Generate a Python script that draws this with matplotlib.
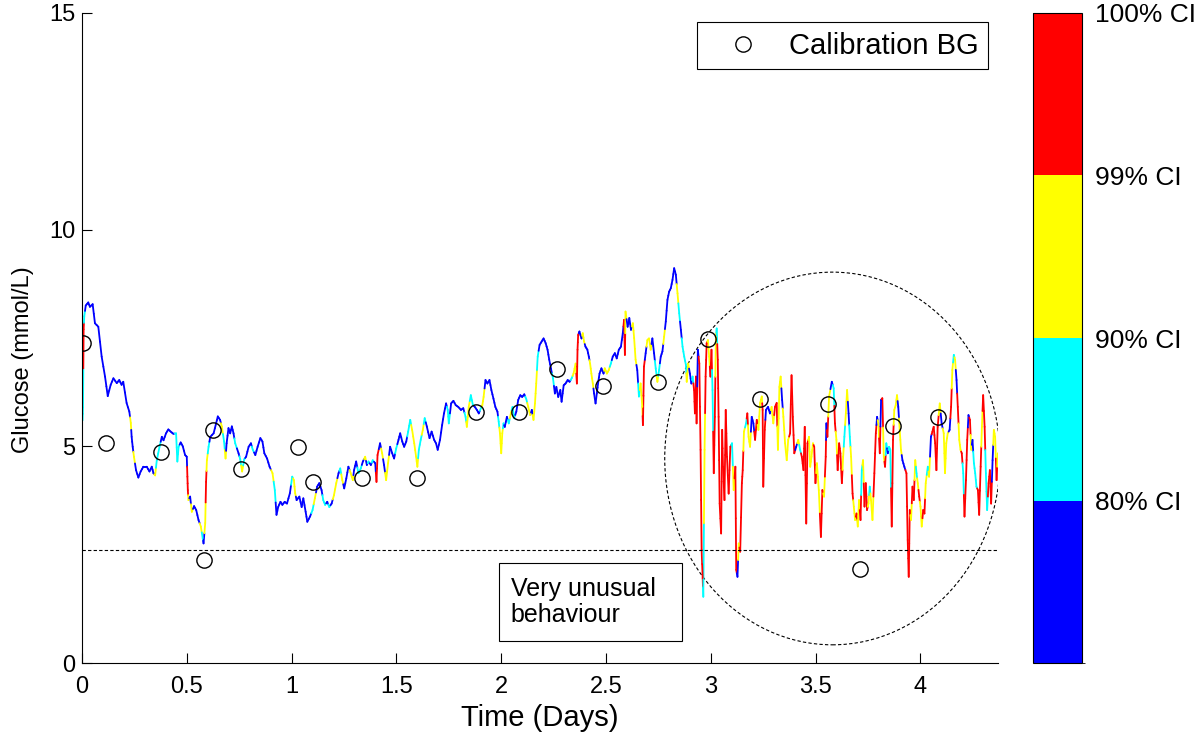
import numpy as np
import matplotlib.pyplot as plt
from matplotlib import font_manager
from matplotlib.collections import LineCollection
from matplotlib.colors import ListedColormap, BoundaryNorm
from matplotlib.patches import Ellipse, Rectangle

plt.rcParams['font.family'] = ['Liberation Sans', 'DejaVu Sans']
installed = {f.name for f in font_manager.fontManager.ttflist}
tick_font = 'Liberation Sans Narrow' if 'Liberation Sans Narrow' in installed else 'Liberation Sans'
tick_size = 20 if tick_font == 'Liberation Sans Narrow' else 17

# CGM trace: (time in days, glucose mmol/L, CI level 0=80%,1=90%,2=99%,3=100%)
trace = [
    (0.003, 5.60, 1), (0.005, 5.90, 1), (0.008, 7.70, 3), (0.011, 8.00, 1), (0.018, 8.25, 0),
    (0.030, 8.32, 0), (0.038, 8.22, 0), (0.051, 8.28, 0), (0.062, 7.84, 0), (0.078, 7.76, 0),
    (0.094, 7.07, 0), (0.110, 6.61, 0), (0.123, 6.16, 0), (0.137, 6.42, 0), (0.150, 6.57, 0),
    (0.166, 6.46, 0), (0.178, 6.53, 0), (0.189, 6.42, 0), (0.197, 6.49, 0), (0.213, 6.00, 0),
    (0.226, 5.80, 0), (0.233, 5.54, 2), (0.237, 5.22, 0), (0.242, 4.99, 0), (0.248, 4.76, 2),
    (0.258, 4.45, 0), (0.269, 4.28, 0), (0.280, 4.42, 0), (0.293, 4.53, 0), (0.309, 4.53, 0),
    (0.322, 4.42, 0), (0.333, 4.53, 0), (0.341, 4.38, 0), (0.349, 4.33, 2), (0.357, 4.68, 1),
    (0.370, 4.99, 1), (0.381, 5.22, 0), (0.389, 5.14, 0), (0.401, 5.30, 0), (0.412, 5.39, 0),
    (0.423, 5.34, 0), (0.436, 5.29, 0), (0.449, 5.30, 1), (0.455, 4.65, 1), (0.461, 4.99, 1),
    (0.471, 5.09, 0), (0.481, 5.00, 0), (0.492, 4.80, 0), (0.500, 4.76, 0), (0.503, 4.30, 3),
    (0.505, 3.99, 3), (0.508, 3.76, 2), (0.516, 3.84, 0), (0.524, 3.49, 2), (0.535, 3.62, 0),
    (0.545, 3.53, 0), (0.556, 3.30, 0), (0.567, 3.15, 2), (0.576, 2.88, 1), (0.580, 2.76, 0),
    (0.588, 3.23, 2), (0.592, 4.18, 3), (0.596, 4.68, 2), (0.604, 4.99, 1), (0.612, 5.22, 0),
    (0.628, 5.30, 0), (0.640, 5.53, 0), (0.648, 5.69, 0), (0.659, 5.61, 0), (0.667, 5.46, 2),
    (0.678, 5.11, 1), (0.685, 4.72, 2), (0.690, 5.07, 0), (0.699, 5.42, 0), (0.707, 5.30, 0),
    (0.715, 5.46, 0), (0.723, 5.30, 0), (0.731, 5.07, 1), (0.747, 4.84, 0), (0.755, 4.70, 1),
    (0.764, 4.42, 2), (0.774, 4.70, 1), (0.783, 4.76, 0), (0.795, 4.99, 0), (0.806, 5.07, 0),
    (0.815, 4.92, 1), (0.827, 4.80, 0), (0.838, 4.99, 0), (0.851, 5.19, 0), (0.861, 5.11, 0),
    (0.870, 4.84, 0), (0.883, 4.72, 0), (0.895, 4.53, 0), (0.909, 4.38, 2), (0.920, 3.99, 1),
    (0.928, 3.42, 0), (0.936, 3.60, 0), (0.947, 3.72, 0), (0.956, 3.65, 0), (0.967, 3.72, 0),
    (0.978, 3.68, 0), (0.992, 3.92, 0), (1.003, 4.30, 1), (1.011, 4.22, 2), (1.017, 3.92, 2),
    (1.024, 3.76, 0), (1.037, 3.84, 0), (1.048, 3.60, 0), (1.056, 3.80, 0), (1.067, 3.49, 0),
    (1.075, 3.26, 0), (1.088, 3.38, 0), (1.100, 3.53, 1), (1.111, 3.80, 2), (1.122, 4.07, 0),
    (1.132, 4.15, 0), (1.143, 3.99, 0), (1.151, 3.76, 1), (1.160, 3.65, 1), (1.170, 3.72, 0),
    (1.180, 3.60, 1), (1.191, 3.68, 0), (1.202, 3.87, 2), (1.213, 4.15, 2), (1.224, 4.38, 0),
    (1.232, 4.49, 1), (1.242, 4.22, 2), (1.251, 4.03, 0), (1.261, 4.26, 0), (1.271, 4.53, 0),
    (1.282, 4.38, 2), (1.292, 4.22, 2), (1.298, 4.45, 0), (1.308, 4.65, 0), (1.319, 4.38, 1),
    (1.330, 4.49, 1), (1.340, 4.65, 0), (1.351, 4.76, 2), (1.359, 4.57, 0), (1.367, 4.65, 1),
    (1.378, 4.57, 0), (1.387, 4.68, 1), (1.399, 4.61, 0), (1.405, 4.18, 3), (1.410, 4.80, 3),
    (1.422, 5.07, 0), (1.432, 4.84, 2), (1.441, 4.57, 0), (1.451, 4.22, 2), (1.460, 4.61, 2),
    (1.470, 4.99, 0), (1.480, 4.84, 0), (1.489, 4.72, 0), (1.499, 4.95, 1), (1.510, 5.15, 0),
    (1.518, 5.30, 0), (1.528, 5.11, 0), (1.537, 4.99, 0), (1.547, 5.11, 0), (1.556, 5.34, 1),
    (1.566, 5.61, 1), (1.575, 5.38, 2), (1.585, 5.07, 2), (1.594, 4.76, 2), (1.600, 4.53, 2),
    (1.607, 4.92, 1), (1.616, 5.15, 1), (1.626, 5.38, 2), (1.635, 5.65, 1), (1.645, 5.46, 0),
    (1.658, 5.19, 0), (1.668, 5.34, 0), (1.680, 5.15, 0), (1.689, 5.07, 0), (1.697, 4.92, 0),
    (1.708, 5.15, 0), (1.718, 5.49, 0), (1.727, 5.76, 0), (1.737, 5.99, 0), (1.745, 5.84, 1),
    (1.750, 5.53, 1), (1.761, 5.99, 0), (1.772, 6.05, 0), (1.783, 5.95, 0), (1.795, 5.91, 0),
    (1.808, 5.84, 0), (1.819, 5.88, 0), (1.830, 5.68, 1), (1.836, 5.45, 2), (1.845, 5.91, 2),
    (1.855, 6.18, 1), (1.865, 5.95, 1), (1.874, 5.91, 0), (1.884, 5.84, 0), (1.893, 5.76, 0),
    (1.903, 5.88, 1), (1.910, 5.95, 2), (1.916, 6.14, 2), (1.925, 6.53, 0), (1.934, 6.45, 0),
    (1.944, 6.53, 0), (1.953, 6.30, 0), (1.963, 6.10, 0), (1.972, 5.91, 0), (1.982, 5.80, 0),
    (1.988, 5.57, 1), (1.994, 5.30, 2), (2.000, 4.84, 2), (2.005, 5.30, 2), (2.011, 5.53, 1),
    (2.017, 5.45, 0), (2.027, 5.68, 0), (2.036, 5.53, 1), (2.046, 5.76, 2), (2.054, 5.91, 1),
    (2.062, 5.65, 1), (2.072, 5.80, 0), (2.081, 6.07, 0), (2.091, 6.18, 0), (2.100, 6.14, 0),
    (2.110, 6.20, 0), (2.119, 6.10, 1), (2.129, 5.91, 2), (2.138, 5.72, 2), (2.146, 5.84, 0),
    (2.154, 5.61, 2), (2.161, 5.99, 2), (2.167, 6.45, 2), (2.174, 7.07, 1), (2.183, 7.34, 0),
    (2.193, 7.42, 0), (2.202, 7.49, 0), (2.212, 7.38, 0), (2.221, 7.23, 0), (2.229, 7.00, 0),
    (2.237, 6.80, 0), (2.247, 6.57, 1), (2.256, 6.22, 0), (2.263, 6.37, 0), (2.272, 6.14, 0),
    (2.282, 6.30, 0), (2.288, 6.03, 0), (2.298, 6.41, 0), (2.307, 6.45, 0), (2.317, 6.53, 0),
    (2.326, 6.49, 0), (2.336, 6.57, 1), (2.345, 6.68, 2), (2.355, 6.91, 2), (2.361, 6.45, 3),
    (2.364, 7.23, 3), (2.367, 7.57, 3), (2.373, 7.65, 0), (2.383, 7.49, 0), (2.389, 7.61, 2),
    (2.395, 7.42, 2), (2.402, 7.30, 0), (2.411, 7.23, 0), (2.418, 7.07, 0), (2.424, 6.91, 2),
    (2.430, 6.68, 2), (2.437, 6.45, 2), (2.443, 6.22, 0), (2.450, 5.99, 0), (2.456, 6.22, 0),
    (2.463, 6.49, 0), (2.469, 6.68, 0), (2.478, 6.80, 0), (2.488, 6.68, 0), (2.494, 6.80, 2),
    (2.504, 6.68, 2), (2.513, 6.76, 2), (2.523, 6.91, 1), (2.532, 7.07, 0), (2.542, 7.15, 0),
    (2.551, 7.03, 0), (2.561, 7.23, 0), (2.571, 7.30, 0), (2.580, 7.61, 0), (2.586, 7.92, 3),
    (2.590, 7.11, 3), (2.593, 8.11, 2), (2.603, 7.76, 0), (2.611, 7.96, 0), (2.619, 7.69, 0),
    (2.628, 7.84, 2), (2.634, 7.50, 2), (2.641, 7.00, 2), (2.649, 6.76, 0), (2.657, 6.15, 1),
    (2.665, 6.45, 2), (2.673, 5.91, 2), (2.676, 5.49, 3), (2.681, 6.84, 3), (2.689, 7.15, 0),
    (2.697, 7.45, 2), (2.705, 7.49, 2), (2.713, 7.23, 2), (2.721, 7.49, 0), (2.729, 7.15, 0),
    (2.737, 6.80, 1), (2.745, 6.49, 2), (2.753, 6.76, 1), (2.761, 7.07, 0), (2.769, 7.19, 0),
    (2.777, 7.53, 2), (2.785, 7.88, 0), (2.793, 8.38, 0), (2.801, 8.57, 0), (2.809, 8.65, 0),
    (2.817, 8.84, 0), (2.825, 9.11, 0), (2.833, 8.96, 0), (2.841, 8.53, 2), (2.849, 8.07, 1),
    (2.857, 7.69, 0), (2.865, 7.30, 1), (2.873, 7.07, 1), (2.881, 6.88, 1), (2.885, 6.49, 2),
    (2.892, 6.91, 2), (2.900, 6.68, 0), (2.907, 6.45, 0), (2.913, 6.61, 1), (2.920, 6.30, 3),
    (2.924, 5.76, 3), (2.929, 6.61, 3), (2.932, 5.53, 3), (2.938, 7.23, 0), (2.945, 6.91, 3),
    (2.951, 4.92, 3), (2.956, 2.61, 3), (2.961, 1.96, 3), (2.964, 1.53, 1), (2.970, 4.92, 2),
    (2.975, 6.61, 3), (2.980, 7.38, 3), (2.986, 7.45, 2), (2.992, 7.07, 2), (2.998, 6.61, 3),
    (3.003, 7.23, 3), (3.008, 6.30, 1), (3.014, 4.38, 3), (3.019, 5.68, 3), (3.024, 7.53, 2),
    (3.028, 7.72, 1), (3.033, 7.00, 3), (3.037, 5.68, 3), (3.042, 3.68, 3), (3.049, 2.99, 3),
    (3.054, 5.38, 3), (3.058, 4.53, 3), (3.065, 3.76, 3), (3.071, 5.84, 3), (3.077, 4.76, 3),
    (3.085, 3.91, 3), (3.093, 4.99, 3), (3.101, 5.07, 1), (3.109, 3.99, 2), (3.117, 4.53, 3),
    (3.121, 2.15, 3), (3.127, 1.99, 0), (3.133, 2.76, 2), (3.140, 2.57, 3), (3.148, 4.15, 3),
    (3.152, 4.45, 3), (3.158, 5.34, 2), (3.168, 5.53, 1), (3.174, 5.76, 3), (3.180, 5.22, 2),
    (3.187, 4.99, 2), (3.195, 5.68, 0), (3.203, 5.53, 0), (3.211, 5.15, 3), (3.219, 5.61, 3),
    (3.227, 5.38, 2), (3.235, 6.00, 2), (3.243, 6.15, 2), (3.247, 5.84, 3), (3.250, 4.07, 3),
    (3.257, 5.38, 3), (3.263, 5.84, 0), (3.273, 5.91, 0), (3.282, 5.76, 0), (3.290, 5.91, 2),
    (3.298, 5.53, 2), (3.306, 5.91, 3), (3.314, 6.00, 3), (3.320, 4.92, 2), (3.327, 6.37, 2),
    (3.333, 6.61, 2), (3.340, 6.07, 0), (3.346, 5.68, 2), (3.354, 5.07, 2), (3.362, 4.68, 2),
    (3.369, 5.15, 2), (3.378, 5.30, 3), (3.385, 6.64, 3), (3.391, 5.68, 3), (3.398, 4.84, 3),
    (3.407, 4.99, 0), (3.417, 5.15, 2), (3.426, 4.92, 1), (3.434, 4.76, 3), (3.442, 4.45, 3),
    (3.448, 5.45, 3), (3.455, 3.22, 3), (3.461, 5.07, 3), (3.468, 5.22, 2), (3.474, 4.53, 2),
    (3.480, 4.76, 2), (3.487, 5.07, 2), (3.493, 4.99, 3), (3.499, 4.15, 3), (3.506, 4.61, 2),
    (3.515, 3.99, 2), (3.525, 2.91, 3), (3.532, 3.99, 3), (3.540, 3.84, 2), (3.548, 4.76, 3),
    (3.551, 5.53, 0), (3.556, 5.22, 3), (3.564, 6.15, 2), (3.577, 6.49, 0), (3.586, 6.34, 1),
    (3.592, 5.53, 3), (3.599, 5.15, 2), (3.605, 4.45, 3), (3.612, 5.07, 3), (3.618, 4.84, 3),
    (3.625, 4.15, 3), (3.631, 4.76, 2), (3.637, 5.22, 1), (3.644, 5.76, 2), (3.650, 6.30, 2),
    (3.657, 5.76, 0), (3.663, 5.22, 1), (3.669, 4.76, 2), (3.676, 3.91, 3), (3.682, 3.61, 2),
    (3.688, 3.30, 2), (3.695, 3.45, 3), (3.701, 3.15, 2), (3.707, 3.76, 2), (3.714, 3.30, 3),
    (3.720, 4.45, 1), (3.726, 4.68, 2), (3.733, 3.61, 3), (3.739, 4.15, 3), (3.745, 3.53, 3),
    (3.752, 3.68, 2), (3.758, 4.07, 1), (3.764, 3.76, 2), (3.771, 3.30, 2), (3.780, 4.38, 3),
    (3.787, 5.30, 3), (3.793, 5.68, 0), (3.799, 5.53, 2), (3.806, 4.84, 3), (3.812, 6.07, 0),
    (3.818, 6.11, 3), (3.825, 4.76, 2), (3.831, 4.53, 3), (3.837, 5.07, 1), (3.844, 4.84, 0),
    (3.850, 4.99, 1), (3.856, 4.92, 1), (3.863, 3.15, 3), (3.869, 5.15, 3), (3.875, 5.84, 2),
    (3.882, 5.95, 2), (3.888, 6.18, 2), (3.894, 5.91, 0), (3.901, 5.38, 2), (3.907, 4.92, 2),
    (3.914, 4.68, 0), (3.923, 4.53, 0), (3.933, 4.38, 3), (3.939, 2.84, 3), (3.944, 1.99, 3),
    (3.949, 3.53, 3), (3.955, 3.30, 2), (3.962, 4.07, 3), (3.968, 3.76, 3), (3.975, 4.68, 2),
    (3.981, 4.38, 1), (3.987, 4.15, 2), (3.994, 3.84, 3), (4.000, 3.61, 2), (4.006, 3.15, 2),
    (4.013, 3.53, 3), (4.019, 3.45, 3), (4.025, 4.15, 2), (4.035, 4.53, 1), (4.041, 4.30, 2),
    (4.050, 5.22, 0), (4.057, 5.34, 3), (4.063, 5.45, 3), (4.070, 5.07, 3), (4.076, 4.45, 3),
    (4.082, 5.45, 3), (4.092, 5.99, 2), (4.101, 5.53, 0), (4.111, 5.30, 2), (4.117, 4.38, 2),
    (4.123, 5.07, 2), (4.130, 5.30, 2), (4.139, 5.38, 0), (4.146, 5.91, 3), (4.152, 6.76, 2),
    (4.159, 7.11, 1), (4.165, 7.00, 2), (4.172, 6.53, 0), (4.178, 5.91, 3), (4.185, 5.15, 2),
    (4.191, 4.92, 2), (4.197, 4.84, 3), (4.204, 4.38, 1), (4.210, 3.38, 3), (4.217, 4.22, 3),
    (4.223, 5.15, 3), (4.229, 5.72, 0), (4.236, 5.61, 3), (4.242, 4.92, 2), (4.248, 5.15, 0),
    (4.255, 4.61, 1), (4.261, 4.38, 1), (4.267, 4.07, 1), (4.274, 3.99, 3), (4.280, 3.42, 3),
    (4.287, 4.53, 3), (4.293, 5.45, 2), (4.299, 6.18, 3), (4.306, 5.45, 3), (4.312, 4.38, 1),
    (4.318, 3.53, 1), (4.325, 4.15, 3), (4.331, 4.45, 3), (4.337, 3.68, 3), (4.344, 4.68, 0),
    (4.350, 5.38, 2), (4.356, 5.22, 2), (4.363, 4.22, 3), (4.369, 4.84, 2),
]
days = np.array([t[0] for t in trace])
glucose = np.array([t[1] for t in trace])
ci_level = np.array([t[2] for t in trace])

# calibration blood glucose readings
cal_days = [0.005, 0.115, 0.377, 0.583, 0.626, 0.760, 1.032, 1.104, 1.338, 1.596, 1.878,
            2.083, 2.265, 2.484, 2.747, 2.986, 3.235, 3.560, 3.712, 3.870, 4.085]
cal_bg = [7.38, 5.08, 4.87, 2.38, 5.38, 4.48, 4.98, 4.18, 4.27, 4.27, 5.79,
          5.79, 6.78, 6.39, 6.48, 7.48, 6.09, 5.98, 2.17, 5.47, 5.68]

ci_colors = ['#0000ff', '#00ffff', '#ffff00', '#ff0000']
ci_labels = ['80% CI', '90% CI', '99% CI', '100% CI']
threshold = 2.6

fig = plt.figure(figsize=(12, 7.38), dpi=100)
ax = fig.add_axes([0.0683, 0.1016, 0.7634, 0.8808])

# each segment: first half takes the colour of its start point, second half of its end point
pts = np.column_stack([days, glucose])
mids = (pts[:-1] + pts[1:]) / 2
segs = np.concatenate([np.stack([pts[:-1], mids], axis=1), np.stack([mids, pts[1:]], axis=1)])
seg_colors = [ci_colors[l] for l in ci_level[:-1]] + [ci_colors[l] for l in ci_level[1:]]
lc = LineCollection(segs, colors=seg_colors, linewidths=1.3, capstyle='round')
ax.add_collection(lc)

ax.plot(cal_days, cal_bg, 'o', mfc='none', mec='black', ms=11, mew=1, label='Calibration BG')

ax.axhline(threshold, color='black', lw=0.8, ls=(0, (3, 2)))
ax.add_patch(Ellipse((3.58, 4.72), 1.6, 8.6, fill=False, ec='black', lw=0.8, ls=(0, (3, 2))))

ax.add_patch(Rectangle((1.988, 0.51), 0.874, 1.80, fill=False, ec='black', lw=0.8))
ax.text(2.045, 1.40, 'Very unusual\nbehaviour', fontsize=18, ha='left', va='center', linespacing=1.1)

ax.set_xlim(0, 4.37)
ax.set_ylim(0, 15)
ax.set_xticks(np.arange(0, 4.01, 0.5))
ax.set_xticklabels(['0', '0.5', '1', '1.5', '2', '2.5', '3', '3.5', '4'])
ax.set_yticks([0, 5, 10, 15])
ax.tick_params(direction='in', length=7)
ax.tick_params(axis='x', pad=9)
ax.tick_params(axis='y', pad=5)
for lab in ax.get_xticklabels() + ax.get_yticklabels():
    lab.set_fontfamily(tick_font)
    lab.set_fontsize(tick_size)
ax.spines['top'].set_visible(False)
ax.spines['right'].set_visible(False)
ax.set_xlabel('Time (Days)', fontsize=21, labelpad=5)
ax.set_ylabel('Glucose (mmol/L)', fontsize=17)
ax.yaxis.set_label_coords(-0.052, 0.466)

leg = ax.legend(loc='upper right', bbox_to_anchor=(0.989, 0.986), borderaxespad=0, fontsize=21,
                fancybox=False, framealpha=1, edgecolor='black', borderpad=0.33,
                handletextpad=0.28, handlelength=2.55)
leg.get_frame().set_linewidth(0.8)

# discrete colour bar
cax = fig.add_axes([0.861, 0.1016, 0.041, 0.8808])
cmap = ListedColormap(ci_colors)
norm = BoundaryNorm([0, 1, 2, 3, 4], cmap.N)
cb = fig.colorbar(plt.cm.ScalarMappable(norm=norm, cmap=cmap), cax=cax, ticks=[1, 2, 3, 4])
cb.ax.set_yticklabels(ci_labels)
cb.ax.tick_params(length=0, labelsize=19, pad=9)
cb.outline.set_linewidth(0.8)

fig.savefig('out.png', dpi=100)
